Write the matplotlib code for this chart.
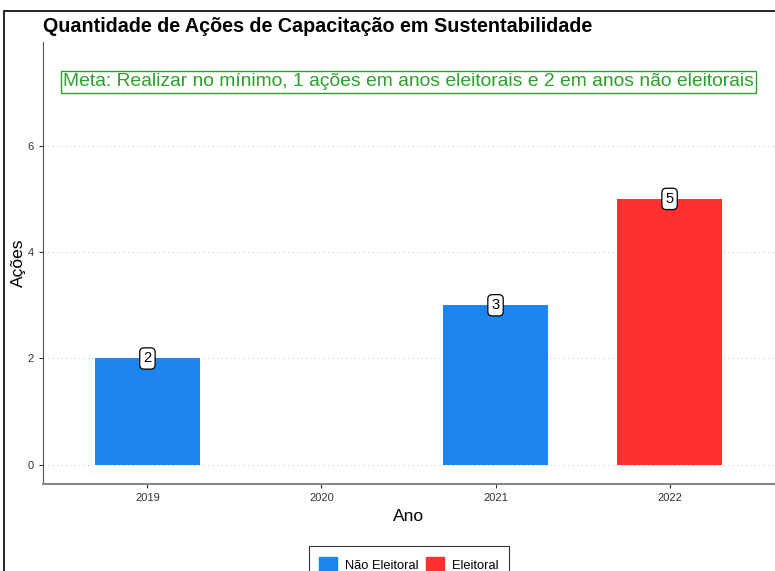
import numpy as np
import matplotlib.pyplot as plt
from matplotlib.patches import Patch, Rectangle

plt.rcParams['font.family'] = ['Liberation Sans', 'DejaVu Sans']

anos = ['2019', '2020', '2021', '2022']
acoes = [2, np.nan, 3, 5]
tipo = ['Não Eleitoral', 'Eleitoral', 'Não Eleitoral', 'Eleitoral']
cores = {'Não Eleitoral': '#1C86EE', 'Eleitoral': '#FF3030'}

meta = 'Meta: Realizar no mínimo, 1 ações em anos eleitorais e 2 em anos não eleitorais'
titulo = 'Quantidade de Ações de Capacitação em Sustentabilidade'

fig = plt.figure(figsize=(7.75, 5.71), dpi=100)
ax = fig.add_axes([43/775, 87/571, 731/775, 442/571])

x = np.arange(1, len(anos) + 1)
for xi, v, t in zip(x, acoes, tipo):
    if np.isnan(v):
        continue
    ax.bar(xi, v, width=0.6, color=cores[t], zorder=2)
    ax.text(xi, v, str(int(v)), ha='center', va='center', fontsize=10.5, zorder=3,
            bbox=dict(boxstyle='round,pad=0.25,rounding_size=0.3', fc='white', ec='black', lw=0.9))

ax.set_xlim(0.4, 4.6)
ax.set_ylim(-0.36, 7.95)
ax.set_xticks(x)
ax.set_xticklabels(anos)
ax.set_yticks([0, 2, 4, 6])
ax.tick_params(labelsize=8, length=3, color='#333333', labelcolor='#333333')
ax.grid(axis='y', linestyle=(0, (1, 3)), color='#cccccc', lw=0.8, zorder=0)
for s in ['top', 'right']:
    ax.spines[s].set_visible(False)
ax.spines['left'].set_color('#555555')
ax.spines['bottom'].set_color('#888888')
ax.spines['bottom'].set_linewidth(1.5)
ax.set_xlabel('Ano', fontsize=12.5, labelpad=4)
ax.set_ylabel('Ações', fontsize=12.5)
ax.yaxis.set_label_coords(-0.023, 0.5)

ax.text(2.5, 7.2, meta, ha='center', va='center', fontsize=13.9, color='#2ca02c',
        bbox=dict(boxstyle='square,pad=0.12', fc='white', ec='#2ca02c', lw=1))

fig.text(43/775, 1 - 27/571, titulo, fontsize=14.2, fontweight='bold', va='center', ha='left')

handles = [Patch(color=cores['Não Eleitoral'], label='Não Eleitoral'),
           Patch(color=cores['Eleitoral'], label='Eleitoral')]
leg = fig.legend(handles=handles, loc='upper center', bbox_to_anchor=(409/775, 1 - 540/571),
                 ncol=2, fontsize=9.3, frameon=True, fancybox=False, edgecolor='black',
                 handlelength=1.4, handleheight=1.4, columnspacing=0.6, handletextpad=0.6,
                 borderpad=0.8)
leg.get_frame().set_linewidth(0.8)

# moldura da captura
fig.add_artist(Rectangle((4/775, -0.1), 1.2, 1 - 11/571 + 0.1, transform=fig.transFigure,
                         fill=False, ec='black', lw=1.2))

fig.savefig('out.png', dpi=100)
